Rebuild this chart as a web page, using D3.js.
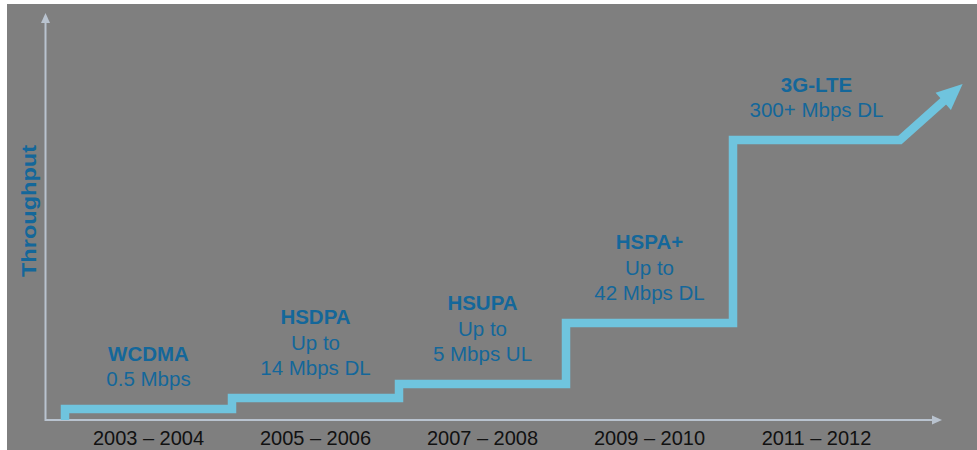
<!DOCTYPE html>
<html>
<head>
<meta charset="utf-8">
<script src="https://cdn.jsdelivr.net/npm/d3@7"></script>
<style>
  html, body { margin: 0; padding: 0; background: #ffffff; }
  svg { display: block; font-family: "Liberation Sans", Arial, sans-serif; }
</style>
</head>
<body>
<svg id="chart" width="977" height="450"></svg>
<script>
// ---- data ----
const periods = ["2003 – 2004", "2005 – 2006", "2007 – 2008", "2009 – 2010", "2011 – 2012"];
const periodStart = [2003, 2005, 2007, 2009, 2011];
const periodEnd = 2013;
// relative throughput level (index, axis has no numeric scale)
const throughputLevel = [2.75, 5.5, 9, 24.25, 70];
const techNames = ["WCDMA", "HSDPA", "HSUPA", "HSPA+", "3G-LTE"];
const techDetails = [["0.5 Mbps"], ["Up to", "14 Mbps DL"], ["Up to", "5 Mbps UL"], ["Up to", "42 Mbps DL"], ["300+ Mbps DL"]];
const arrowTip = { year: 2013.75, level: 84 };
const yAxisTitle = "Throughput";

// ---- layout ----
const W = 977, H = 450;
const svg = d3.select("#chart");
const colBg = "#7f7f7f", colLine = "#6fc4de", colText = "#14679a", colAxis = "#b9c3cf";

svg.append("rect").attr("x", 7).attr("y", 4).attr("width", W - 7).attr("height", H - 4).attr("fill", colBg);

const x = d3.scaleLinear().domain([2003, 2013]).range([65, 900]);
const band = d3.scaleBand().domain(periods).range([x(2003), x(2013)]).padding(0);
const y = d3.scaleLinear().domain([0, 100]).range([420, 20]);

// axes
const axisX0 = 45.5, axisY0 = y(0);
svg.append("line").attr("x1", axisX0).attr("y1", axisY0).attr("x2", 934).attr("y2", axisY0)
  .attr("stroke", colAxis).attr("stroke-width", 2);
svg.append("path").attr("d", `M942,${axisY0} L932,${axisY0 - 4.5} L932,${axisY0 + 4.5} Z`).attr("fill", colAxis);
svg.append("line").attr("x1", axisX0).attr("y1", axisY0 + 1).attr("x2", axisX0).attr("y2", 21)
  .attr("stroke", colAxis).attr("stroke-width", 2);
svg.append("path").attr("d", `M${axisX0},13 L${axisX0 - 4.5},23 L${axisX0 + 4.5},23 Z`).attr("fill", colAxis);

// bottom labels via d3 axis
const gx = svg.append("g").attr("transform", `translate(0,${axisY0})`)
  .call(d3.axisBottom(band).tickSize(0).tickPadding(11));
gx.select(".domain").remove();
gx.selectAll("text").attr("font-size", 20).attr("fill", "#111").attr("font-family", "Liberation Sans, Arial, sans-serif");

// y title
svg.append("text")
  .attr("transform", `translate(36,211) rotate(-90)`)
  .attr("text-anchor", "middle")
  .attr("font-size", 20).attr("font-weight", "bold").attr("fill", colText)
  .attr("textLength", 132).attr("lengthAdjust", "spacingAndGlyphs")
  .text(yAxisTitle);

// step line
const pts = [[x(periodStart[0]), y(0)]];
periodStart.forEach((s, i) => {
  pts.push([x(s), y(throughputLevel[i])]);
  const e = i < periodStart.length - 1 ? periodStart[i + 1] : periodEnd;
  pts.push([x(e), y(throughputLevel[i])]);
});
const tip = [x(arrowTip.year), y(arrowTip.level)];
const last = pts[pts.length - 1];
const dx = tip[0] - last[0], dy = tip[1] - last[1];
const len = Math.hypot(dx, dy);
const ux = dx / len, uy = dy / len;
const headLen = 26, headHalf = 11.5;
const base = [tip[0] - ux * headLen, tip[1] - uy * headLen];
pts.push([base[0] + ux * 2, base[1] + uy * 2]);

svg.append("path")
  .attr("d", d3.line()(pts))
  .attr("fill", "none").attr("stroke", colLine).attr("stroke-width", 8.5)
  .attr("stroke-linejoin", "miter");
svg.append("path")
  .attr("d", `M${tip[0]},${tip[1]} L${base[0] - uy * headHalf},${base[1] + ux * headHalf} L${base[0] + uy * headHalf},${base[1] - ux * headHalf} Z`)
  .attr("fill", colLine);

// labels
const lineGap = 25.5;
techNames.forEach((name, i) => {
  const lines = [name].concat(techDetails[i]);
  const cx = band(periods[i]) + band.bandwidth() / 2;
  const lastBase = y(throughputLevel[i]) - 23;
  const t = svg.append("text").attr("text-anchor", "middle").attr("fill", colText).attr("font-size", 20.5);
  lines.forEach((ln, j) => {
    t.append("tspan").attr("x", cx)
      .attr("y", lastBase - (lines.length - 1 - j) * lineGap)
      .attr("font-weight", j === 0 ? "bold" : "normal")
      .text(ln);
  });
});
</script>
</body>
</html>
